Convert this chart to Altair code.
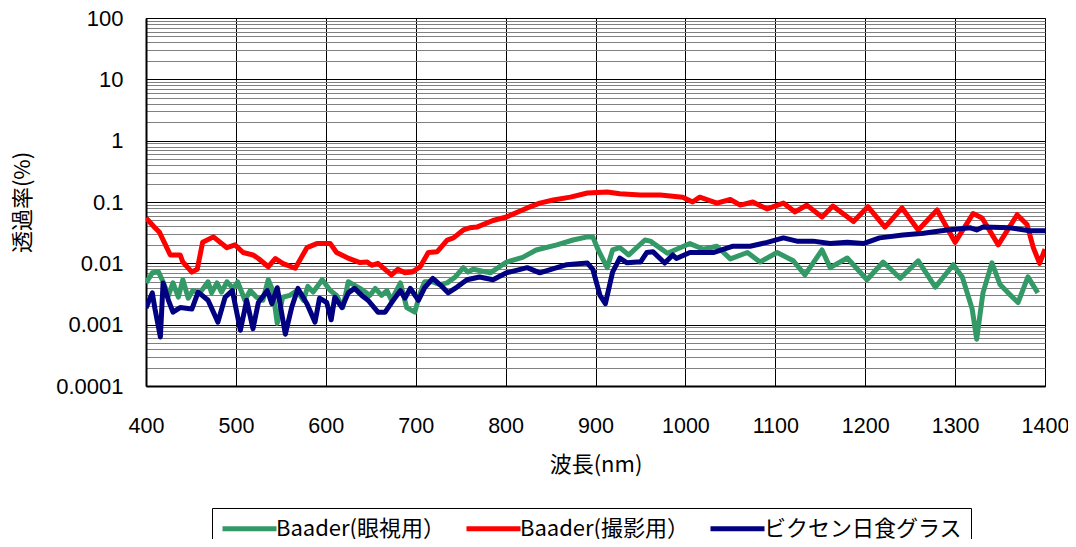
import altair as alt
import pandas as pd

series_names = ["Baader(眼視用）", "Baader(撮影用）", "ビクセン日食グラス"]
series_colors = ["#339966", "#ff0000", "#000080"]

green_wl = [400, 407, 414, 419, 425, 430, 436, 441, 447, 452, 460, 469, 473, 479, 484, 490, 497, 502, 510, 516,
            523, 530, 536, 541, 546, 552, 560, 568, 575, 580, 586, 596, 605, 612, 619, 625, 638, 649, 655, 662,
            668, 673, 683, 690, 699, 705, 710, 719, 727, 735, 744, 753, 758, 764, 783, 801, 819, 834, 857, 875,
            891, 897, 903, 913, 919, 927, 937, 955, 961, 980, 1005, 1020, 1035, 1050, 1069, 1083, 1102, 1120, 1133, 1152,
            1161, 1180, 1202, 1220, 1239, 1259, 1278, 1298, 1308, 1319, 1324, 1331, 1341, 1350, 1359, 1370, 1381, 1392]
green_val = [0.0048, 0.0070, 0.0072, 0.005, 0.003, 0.0048, 0.0028, 0.0054, 0.0027, 0.0036, 0.0033, 0.005, 0.0033, 0.0048, 0.0034, 0.005, 0.0039, 0.005, 0.0025, 0.0036,
             0.0028, 0.0025, 0.0054, 0.0036, 0.00105, 0.0028, 0.003, 0.0036, 0.0025, 0.0042, 0.0034, 0.0054, 0.0036, 0.003, 0.0019, 0.005, 0.0039, 0.003, 0.0039, 0.003,
             0.0036, 0.0025, 0.0048, 0.0019, 0.0016, 0.0033, 0.005, 0.005, 0.0045, 0.0048, 0.006, 0.0085, 0.0072, 0.008, 0.007, 0.0105, 0.0125, 0.0165, 0.020, 0.024,
             0.027, 0.027, 0.0165, 0.0085, 0.0165, 0.018, 0.0137, 0.024, 0.023, 0.0146, 0.021, 0.017, 0.019, 0.0118, 0.015, 0.0105, 0.015, 0.011, 0.0065, 0.0165,
             0.0085, 0.0122, 0.0054, 0.0105, 0.0057, 0.011, 0.0041, 0.0095, 0.006, 0.0018, 0.00058, 0.0033, 0.0102, 0.0045, 0.0033, 0.0023, 0.006, 0.0033]

red_wl = [400, 410, 415, 421, 427, 438, 441, 451, 457, 463, 475, 490, 499, 508, 519, 525, 536, 544, 552, 566,
          579, 590, 605, 612, 624, 638, 646, 651, 658, 673, 680, 688, 696, 705, 714, 724, 735, 742, 753, 760,
          768, 786, 801, 824, 838, 853, 872, 891, 913, 927, 950, 972, 997, 1008, 1016, 1035, 1050, 1061, 1075, 1091,
          1109, 1122, 1135, 1152, 1164, 1187, 1203, 1222, 1241, 1259, 1280, 1300, 1320, 1330, 1348, 1369, 1380, 1387, 1394, 1400]
red_val = [0.055, 0.038, 0.032, 0.021, 0.0137, 0.0137, 0.0105, 0.0072, 0.008, 0.022, 0.027, 0.018, 0.020, 0.015, 0.0137, 0.012, 0.0088, 0.012, 0.0100, 0.0083,
           0.018, 0.021, 0.021, 0.015, 0.0123, 0.0103, 0.0105, 0.0093, 0.0100, 0.0065, 0.0080, 0.0070, 0.0072, 0.0088, 0.015, 0.0155, 0.024, 0.026, 0.035, 0.038,
           0.039, 0.050, 0.057, 0.080, 0.096, 0.108, 0.12, 0.14, 0.146, 0.136, 0.13, 0.13, 0.12, 0.10, 0.12, 0.096, 0.11, 0.089, 0.10, 0.077,
           0.096, 0.069, 0.089, 0.057, 0.086, 0.048, 0.084, 0.039, 0.080, 0.035, 0.074, 0.022, 0.065, 0.055, 0.020, 0.062, 0.043, 0.018, 0.0100, 0.017]

blue_wl = [400, 407, 410, 416, 419, 425, 430, 438, 451, 458, 469, 480, 488, 496, 505, 512, 519, 525, 535, 540,
           546, 555, 562, 569, 579, 588, 593, 601, 606, 610, 618, 625, 632, 640, 647, 658, 666, 675, 683, 688,
           694, 703, 710, 719, 727, 736, 746, 757, 771, 786, 801, 824, 838, 857, 868, 891, 897, 905, 911, 919,
           927, 935, 946, 950, 957, 964, 977, 986, 990, 1005, 1031, 1053, 1072, 1091, 1109, 1124, 1142, 1161, 1180, 1198,
           1216, 1242, 1265, 1291, 1317, 1324, 1331, 1361, 1383, 1400]
blue_val = [0.00187, 0.0033, 0.0018, 0.00063, 0.0048, 0.0025, 0.0016, 0.0019, 0.0018, 0.0034, 0.0025, 0.0011, 0.0028, 0.0036, 0.00081, 0.0025, 0.00086, 0.0023, 0.0036, 0.0022,
            0.004, 0.00070, 0.0019, 0.0039, 0.0022, 0.0011, 0.0027, 0.0023, 0.0012, 0.0028, 0.0019, 0.0033, 0.0039, 0.003, 0.0025, 0.0016, 0.0016, 0.0025, 0.0036, 0.0027,
            0.0039, 0.0025, 0.004, 0.0057, 0.0045, 0.0033, 0.0041, 0.0054, 0.006, 0.0054, 0.007, 0.0085, 0.007, 0.0085, 0.0095, 0.0101, 0.008, 0.0030, 0.0022, 0.0072,
            0.0122, 0.0102, 0.0105, 0.0105, 0.015, 0.0154, 0.0101, 0.0137, 0.012, 0.015, 0.015, 0.019, 0.019, 0.022, 0.026, 0.023, 0.023, 0.021, 0.022, 0.021,
            0.026, 0.029, 0.031, 0.035, 0.038, 0.035, 0.039, 0.038, 0.034, 0.034]

x_ticks = [400, 500, 600, 700, 800, 900, 1000, 1100, 1200, 1300, 1400]
y_major = [0.0001, 0.001, 0.01, 0.1, 1, 10, 100]

y_all = []
for m in y_major[:-1]:
    for k in range(1, 10):
        y_all.append(m if k == 1 else k * m)
y_all.append(100)

rows = []
for name, wl, val in zip(series_names, [green_wl, red_wl, blue_wl], [green_val, red_val, blue_val]):
    for i, (w, v) in enumerate(zip(wl, val)):
        rows.append({"series": name, "wl": w, "val": v, "order": i})
df = pd.DataFrame(rows)

major_js = "[" + ",".join(repr(v) for v in y_major) + "]"
is_major = f"indexof({major_js}, datum.value) >= 0"

chart = alt.Chart(df).mark_line(strokeWidth=5, strokeJoin="round", clip=True).encode(
    x=alt.X("wl:Q",
            scale=alt.Scale(domain=[400, 1400], nice=False, zero=False),
            axis=alt.Axis(values=x_ticks, title="波長(nm)", format="d", grid=True, gridColor="black",
                          gridWidth=1, ticks=False, labelPadding=29, titlePadding=18,
                          labelFlush=False, labelOverlap=False, labelFontSize=21.5,
                          domainColor="black", domainWidth=2)),
    y=alt.Y("val:Q",
            scale=alt.Scale(type="log", domain=[0.0001, 100], nice=False),
            axis=alt.Axis(values=y_all, title="透過率(%)", grid=True,
                          gridColor={"condition": {"test": is_major, "value": "black"}, "value": "#808080"},
                          labelExpr=f"{is_major} ? format(datum.value, '~g') : ''",
                          ticks=False, labelPadding=23, titlePadding=21,
                          labelFlush=False, labelOverlap=False,
                          domainColor="black", domainWidth=2)),
    color=alt.Color("series:N",
                    scale=alt.Scale(domain=series_names, range=series_colors),
                    legend=alt.Legend(title=None, orient="none", legendX=66, legendY=490,
                                      direction="horizontal", symbolType="M-2.7,0H2.7",
                                      symbolSize=400, symbolStrokeWidth=5, symbolOffset=17,
                                      labelOffset=14, labelFont="Noto Sans CJK JP", labelFontSize=22,
                                      labelColor="black", strokeColor="black", fillColor="white",
                                      padding=8, columnPadding=10, labelLimit=400)),
    order=alt.Order("order:Q"),
).properties(
    width=899, height=368,
    autosize=alt.AutoSizeParams(type="none"),
    padding={"left": 138, "top": 10, "right": 23, "bottom": 153},
).configure_view(
    stroke="black", strokeWidth=1
).configure_axis(
    labelFont="Liberation Sans", labelFontSize=22, labelColor="black",
    titleFont="Noto Sans CJK JP", titleFontSize=22, titleFontWeight="normal", titleColor="black",
)

chart.save("out.html", embed_options={"renderer": "svg", "actions": False})
